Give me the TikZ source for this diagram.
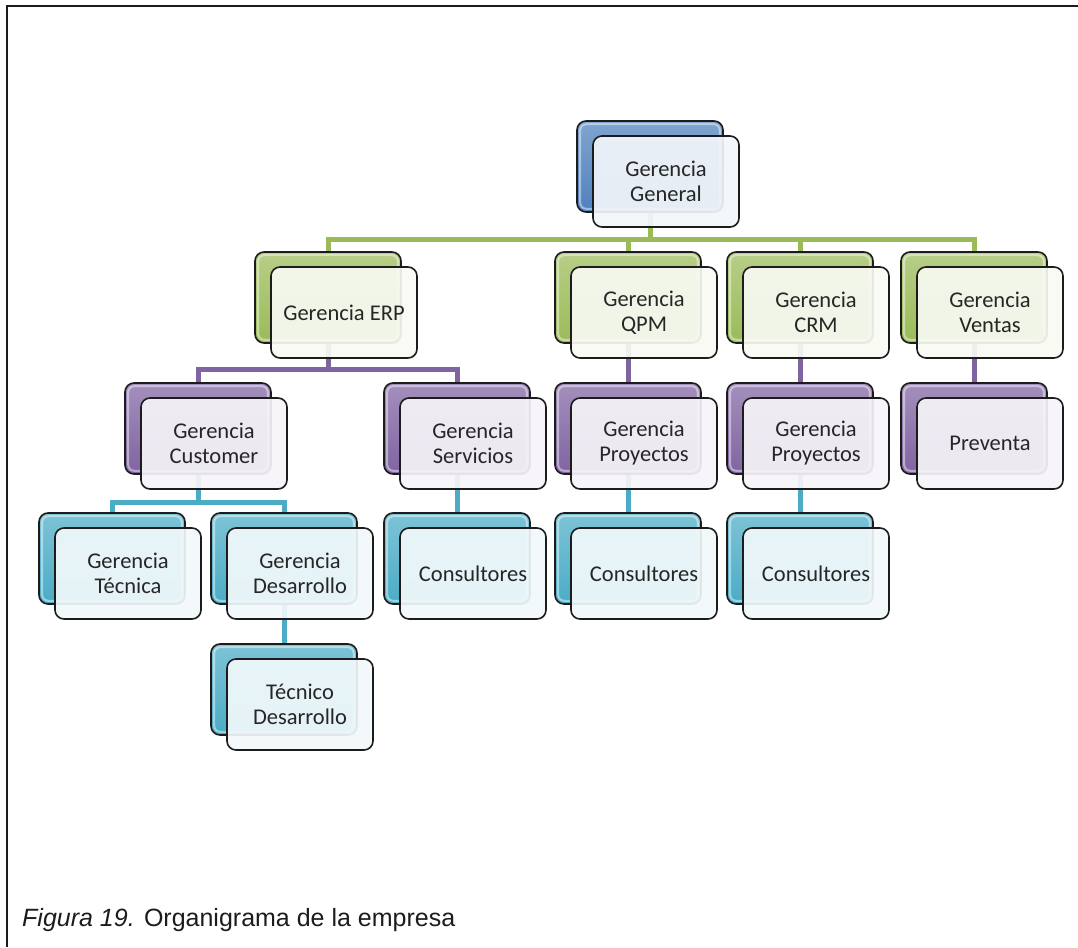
\documentclass[tikz,border=0pt]{standalone}
\usepackage{fontspec}
\setmainfont{Liberation Sans}
\newfontfamily\boxfont{Carlito}
\usetikzlibrary{backgrounds}

\definecolor{ofblue}{HTML}{4F81BD}
\definecolor{ofgreen}{HTML}{9BBB59}
\definecolor{ofpurple}{HTML}{8064A2}
\definecolor{ofaqua}{HTML}{4BACC6}
\definecolor{textgray}{HTML}{262626}
\definecolor{edgegray}{HTML}{1C1C1C}

% One unit of the chart: a coloured box with a glassy box laid over it.
% #1 name, #2 left, #3 top of the coloured box, #4 colour, #5 label
\newcommand\orgunit[5]{%
  \node[backbox=#4] (#1-b) at (#2+73,#3+45.5) {};
  \draw[white, opacity=0.45, line width=2pt, rounded corners=6pt]
    ([shift={(4pt,-4pt)}]#1-b.north west) rectangle ([shift={(-4pt,4pt)}]#1-b.south east);
  \node[frontbox=#4] (#1) at ([shift={(16pt,-15pt)}]#1-b.center) {#5};
}

\begin{document}
\begin{tikzpicture}[x=1pt,y=-1pt,
  backbox/.style={draw=edgegray, line width=1.6pt, rounded corners=9pt,
    minimum width=146pt, minimum height=91pt, inner sep=0pt,
    top color=#1!72!white, bottom color=#1},
  frontbox/.style={draw=edgegray, line width=1.6pt, rounded corners=9pt,
    minimum width=146pt, minimum height=91pt, inner sep=0pt,
    fill=#1!7!white, fill opacity=0.92, text opacity=1, align=center,
    font=\boxfont\fontsize{22.5}{25}\selectfont, text=textgray},
  link/.style={line width=5pt, draw=#1}]

\useasboundingbox (0,0) rectangle (1078,947);

% page frame
\draw[line width=2pt, draw=edgegray] (7,947) -- (7,6) -- (1078,6);

% units
\orgunit{gg}{577}{121}{ofblue}{Gerencia\\General}
\orgunit{erp}{255}{252}{ofgreen}{Gerencia ERP}
\orgunit{qpm}{555}{252}{ofgreen}{Gerencia\\QPM}
\orgunit{crm}{727}{252}{ofgreen}{Gerencia\\CRM}
\orgunit{ven}{901}{252}{ofgreen}{Gerencia\\Ventas}
\orgunit{cus}{125}{383}{ofpurple}{Gerencia\\Customer}
\orgunit{ser}{384}{383}{ofpurple}{Gerencia\\Servicios}
\orgunit{pq}{555}{383}{ofpurple}{Gerencia\\Proyectos}
\orgunit{pc}{727}{383}{ofpurple}{Gerencia\\Proyectos}
\orgunit{pre}{901}{383}{ofpurple}{Preventa}
\orgunit{tec}{39}{513}{ofaqua}{Gerencia\\Técnica}
\orgunit{des}{211}{513}{ofaqua}{Gerencia\\Desarrollo}
\orgunit{c1}{384}{513}{ofaqua}{Consultores}
\orgunit{c2}{555}{513}{ofaqua}{Consultores}
\orgunit{c3}{727}{513}{ofaqua}{Consultores}
\orgunit{td}{211}{644}{ofaqua}{Técnico\\Desarrollo}

% connectors, behind the boxes
\begin{pgfonlayer}{background}
  \draw[link=ofgreen] (gg-b.center) |- ([yshift=12pt]erp-b.north) -- (erp-b.center);
  \draw[link=ofgreen] (gg-b.center) |- ([yshift=12pt]qpm-b.north) -- (qpm-b.center);
  \draw[link=ofgreen] (gg-b.center) |- ([yshift=12pt]crm-b.north) -- (crm-b.center);
  \draw[link=ofgreen] (gg-b.center) |- ([yshift=12pt]ven-b.north) -- (ven-b.center);
  \draw[link=ofpurple] (erp-b.center) |- ([yshift=13pt]cus-b.north) -- (cus-b.center);
  \draw[link=ofpurple] (erp-b.center) |- ([yshift=13pt]ser-b.north) -- (ser-b.center);
  \draw[link=ofpurple] (qpm-b.center) -- (pq-b.center);
  \draw[link=ofpurple] (crm-b.center) -- (pc-b.center);
  \draw[link=ofpurple] (ven-b.center) -- (pre-b.center);
  \draw[link=ofaqua] (cus-b.center) |- ([yshift=10pt]tec-b.north) -- (tec-b.center);
  \draw[link=ofaqua] (cus-b.center) |- ([yshift=10pt]des-b.north) -- (des-b.center);
  \draw[link=ofaqua] (des-b.center) -- (td-b.center);
  \draw[link=ofaqua] (ser-b.center) -- (c1-b.center);
  \draw[link=ofaqua] (pq-b.center) -- (c2-b.center);
  \draw[link=ofaqua] (pc-b.center) -- (c3-b.center);
\end{pgfonlayer}

% caption
\node[anchor=base west, inner sep=0pt, font=\fontsize{25}{30}\selectfont, text=edgegray]
  (caption) at (22,926) {{\itshape Figura 19.} Organigrama de la empresa};
\end{tikzpicture}
\end{document}
